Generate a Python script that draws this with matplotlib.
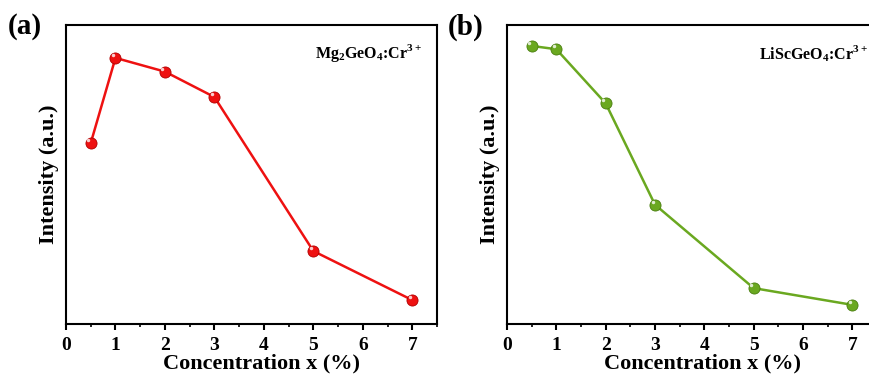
import matplotlib
matplotlib.use("Agg")
import matplotlib.pyplot as plt
from matplotlib.ticker import MultipleLocator

plt.rcParams['font.family'] = ['Liberation Serif', 'DejaVu Serif']
plt.rcParams['font.weight'] = 'bold'
plt.rcParams['mathtext.fontset'] = 'custom'
plt.rcParams['mathtext.rm'] = 'Liberation Serif:bold'
plt.rcParams['mathtext.bf'] = 'Liberation Serif:bold'

conc = [0.5, 1, 2, 3, 5, 7]
intensity_a = [60.5, 89.0, 84.4, 75.9, 24.4, 8.0]
intensity_b = [93.0, 91.9, 73.8, 39.9, 12.0, 6.4]
xticks = [0, 1, 2, 3, 4, 5, 6, 7]
label_a = r'Mg$_2$GeO$_4$:Cr$^{3+}$'
label_b = r'LiScGeO$_4$:Cr$^{3+}$'

W, H = 869, 376
fig = plt.figure(figsize=(W / 100, H / 100), dpi=100)

def make_ax(left_px, right_px, top_px, bottom_px):
    return fig.add_axes([left_px / W, 1 - bottom_px / H,
                         (right_px - left_px) / W, (bottom_px - top_px) / H])

axes_specs = [
    (66, 437, intensity_a, '#ee1111', '#b00000', label_a, '(a)', 8, 422),
    (507, 877, intensity_b, '#6aa820', '#4a7e10', label_b, '(b)', 448, 868),
]

for left, right, vals, col, edge, lab, tag, tagx, labx in axes_specs:
    ax = make_ax(left, right, 25, 324)
    ax.plot(conc, vals, '-', color=col, lw=1.8, zorder=2)
    ax.plot(conc, vals, 'o', color=col, markersize=8, markeredgecolor=edge,
            markeredgewidth=0.6, zorder=3)
    ax.plot([c - 0.05 for c in conc], [v + 1.0 for v in vals], 'o', color='white',
            markersize=2.5, alpha=0.8, markeredgewidth=0, zorder=4)
    ax.set_xlim(0, 7.5)
    ax.set_ylim(0, 100)
    ax.set_xticks(xticks)
    ax.xaxis.set_minor_locator(MultipleLocator(0.5))
    ax.set_yticks([])
    ax.tick_params(axis='x', which='major', direction='out', length=4, width=1.5,
                   labelsize=14, pad=5)
    ax.tick_params(axis='x', which='minor', direction='out', length=2.5, width=1.2)
    for lbl in ax.get_xticklabels():
        lbl.set_fontweight('bold')
    for sp in ax.spines.values():
        sp.set_linewidth(1.5)
    ax.set_xlabel('Concentration x (%)', fontsize=16, fontweight='bold')
    ax.xaxis.set_label_coords((left + (right - left) / 2 + 10 - left) / (right - left),
                              -(363 - 324) / (324 - 25), transform=ax.transAxes)
    ax.xaxis.label.set_va('center')
    ax.set_ylabel('Intensity (a.u.)', fontsize=16, fontweight='bold')
    ax.yaxis.set_label_coords(-17 / (right - left), 0.5, transform=ax.transAxes)
    ax.yaxis.label.set_va('center')
    ax.text((labx - left) / (right - left), 0.905, lab,
            transform=ax.transAxes, ha='right', va='center', fontsize=11.5,
            fontweight='bold', clip_on=False)
    fig.text(tagx / W, 1 - 27 / H, tag, fontsize=21, fontweight='bold',
             ha='left', va='center')

fig.savefig('out.png', dpi=100)
